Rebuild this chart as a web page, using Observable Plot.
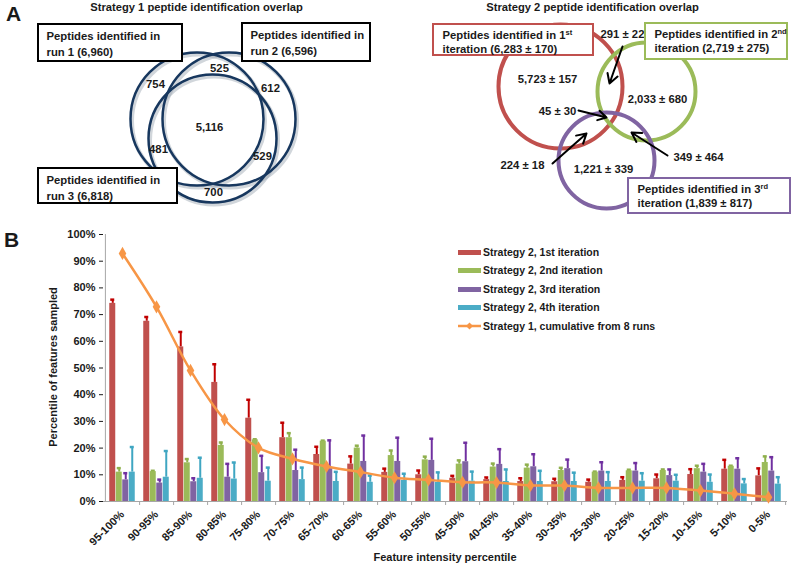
<!DOCTYPE html>
<html>
<head>
<meta charset="utf-8">
<script src="https://cdn.jsdelivr.net/npm/d3@7"></script>
<script src="https://cdn.jsdelivr.net/npm/@observablehq/plot@0.6"></script>
<style>
  body { margin: 0; background: #fff; }
  #wrap { position: relative; width: 800px; height: 568px; font-family: "Liberation Sans", Arial, sans-serif; font-weight: bold; color: #1a1a1a; overflow: hidden; }
  #wrap svg { position: absolute; left: 0; }
  .lbl { position: absolute; white-space: nowrap; }
  .leg { position: absolute; left: 458px; font-size: 10.5px; height: 14px; line-height: 14px; white-space: nowrap; }
  .leg .sw { display: inline-block; width: 23px; height: 5px; vertical-align: middle; margin-right: 2px; position: relative; top: -1px; }
</style>
</head>
<body>
<div id="wrap"></div>
<script>
// ---------- Panel B data ----------
const categories = ["95-100%","90-95%","85-90%","80-85%","75-80%","70-75%","65-70%","60-65%","55-60%","50-55%","45-50%","40-45%","35-40%","30-35%","25-30%","20-25%","15-20%","10-15%","5-10%","0-5%"];
const iter1    = [74.2,67.5,57.9,44.6,31.2,23.9,17.6,14.0,10.9,10.0,8.7,8.2,7.5,7.4,7.2,7.9,8.5,10.1,12.1,9.6];
const iter1Err = [75.6,69.1,63.5,51.4,38.1,29.5,20.5,16.9,12.3,11.6,9.6,9.0,8.7,8.5,8.2,9.1,10.1,12.1,15.6,12.4];
const iter2    = [11.0,11.2,14.5,21.0,23.1,23.9,22.6,20.0,17.2,15.6,14.0,12.9,12.5,11.6,11.0,11.5,11.6,12.3,13.2,14.6];
const iter2Err = [12.5,11.5,15.9,22.1,23.3,25.6,22.8,20.9,19.1,16.8,15.4,14.2,13.8,12.6,11.2,11.9,12.0,13.4,13.4,16.9];
const iter3    = [8.1,6.9,7.4,9.1,10.8,11.6,12.3,15.0,15.0,15.4,14.9,13.9,13.0,12.3,11.4,11.4,9.7,11.0,12.1,11.4];
const iter3Err = [10.6,8.2,8.7,14.1,17.1,19.4,22.9,24.7,23.9,23.5,22.0,19.6,17.7,15.7,14.7,14.4,12.0,14.1,16.2,16.6];
const iter4    = [11.0,9.1,8.7,8.4,7.6,8.2,7.5,7.2,7.9,7.2,7.6,7.5,7.5,7.5,7.5,7.6,7.6,7.2,6.6,6.5];
const iter4Err = [20.4,18.9,16.4,14.6,12.7,12.7,11.1,9.7,10.4,10.9,11.2,12.0,11.5,10.8,11.0,10.6,10.0,10.1,8.4,9.1];
const strategy1 = [92.9,72.9,49.1,30.7,20.1,16.0,13.1,11.0,8.9,8.1,7.2,7.1,6.0,6.0,5.1,5.1,5.1,4.1,2.9,1.6];
const yTicks = [0,10,20,30,40,50,60,70,80,90,100];

const seriesNames = ["Strategy 2, 1st iteration","Strategy 2, 2nd iteration","Strategy 2, 3rd iteration","Strategy 2, 4th iteration"];
const lineName = "Strategy 1, cumulative from 8 runs";
const barColors = ["#c0504d","#9bbb59","#8064a2","#4bacc6"];
const errColors = ["#c00000","#8fb04c","#7030a0","#3fa6c2"];
const lineColor = "#f79646";

// ---------- Panel A data (diagram layout, pixel units) ----------
const titlesA = [
  {x: 196, y: 7, text: "Strategy 1 peptide identification overlap"},
  {x: 592, y: 7, text: "Strategy 2 peptide identification overlap"}
];
const venn1Circles = [{x: 196.5, y: 118.5, r: 66.5}, {x: 228.5, y: 118.5, r: 66.5}, {x: 212, y: 138, r: 64}];
const venn1Counts = [
  {x: 155, y: 84, text: "754"}, {x: 219, y: 68, text: "525"}, {x: 270, y: 88, text: "612"},
  {x: 209, y: 127, text: "5,116"}, {x: 158, y: 149, text: "481"}, {x: 262, y: 156, text: "529"},
  {x: 213, y: 192, text: "700"}
];
const venn1Boxes = [
  {x1: 38, y1: 24, x2: 182, y2: 61, l1: "Peptides identified in", l2: "run 1 (6,960)"},
  {x1: 242, y1: 23, x2: 370, y2: 61, l1: "Peptides identified in", l2: "run 2 (6,596)"},
  {x1: 38, y1: 168, x2: 177, y2: 203, l1: "Peptides identified in", l2: "run 3 (6,818)"}
];
const venn2Circles = [
  {x: 560, y: 86, r: 62, c: "#c0504d"},
  {x: 646, y: 91, r: 49, c: "#9bbb59"},
  {x: 606, y: 160, r: 48, c: "#8064a2"}
];
const venn2Counts = [
  {x: 622, y: 34, text: "291 ± 22"}, {x: 547, y: 79, text: "5,723 ± 157"},
  {x: 657, y: 99, text: "2,033 ± 680"}, {x: 557, y: 111, text: "45 ± 30"},
  {x: 698, y: 157, text: "349 ± 464"}, {x: 522, y: 165, text: "224 ± 18"},
  {x: 603, y: 169, text: "1,221 ± 339"}
];
const venn2Arrows = [
  {x1: 622, y1: 46, x2: 609, y2: 83},
  {x1: 578, y1: 110, x2: 606, y2: 117},
  {x1: 552, y1: 163, x2: 586, y2: 133},
  {x1: 667, y1: 155, x2: 631, y2: 132}
];
const venn2Boxes = [
  {x1: 433, y1: 24, x2: 593, y2: 55, c: "#c0504d", l1: "Peptides identified in 1^st", l2: "iteration (6,283 ± 170)"},
  {x1: 645, y1: 23, x2: 787, y2: 59, c: "#9bbb59", l1: "Peptides identified in 2^nd", l2: "iteration (2,719 ± 275)"},
  {x1: 628, y1: 178, x2: 790, y2: 213, c: "#8064a2", l1: "Peptides identified in 3^rd", l2: "iteration (1,839 ± 817)"}
];

const FONT = '"Liberation Sans", Arial, sans-serif';
const wrap = document.getElementById("wrap");

// ---------- Panel A ----------
const boxLines = [];
for (const b of venn1Boxes) {
  boxLines.push({x: b.x1 + 8, y: b.y1 + 12, text: b.l1});
  boxLines.push({x: b.x1 + 8, y: b.y1 + 28, text: b.l2});
}
for (const b of venn2Boxes) {
  boxLines.push({x: b.x1 + 9, y: b.y1 + 11, text: b.l1});
  boxLines.push({x: b.x1 + 9, y: b.y1 + 25, text: b.l2});
}

const plotA = Plot.plot({
  width: 800, height: 230, margin: 0,
  x: {domain: [0, 800], range: [0, 800], axis: null},
  y: {domain: [0, 230], range: [0, 230], axis: null},
  r: {type: "identity"},
  style: {fontFamily: FONT, fontWeight: "bold", fontSize: "11.3px", background: "transparent", overflow: "visible"},
  marks: [
    Plot.dot(venn1Circles, {x: "x", y: "y", r: "r", fill: "none", stroke: "#9aa3b0", strokeOpacity: 0.45, strokeWidth: 4, dx: 1.5, dy: 2}),
    Plot.dot(venn1Circles, {x: "x", y: "y", r: "r", fill: "none", stroke: "#17375e", strokeWidth: 2.5}),
    Plot.dot(venn2Circles, {x: "x", y: "y", r: "r", fill: "none", stroke: d => d.c, strokeWidth: 4}),
    Plot.text(venn1Counts, {x: "x", y: "y", text: "text", fill: "#1a1a1a"}),
    Plot.text(venn2Counts, {x: "x", y: "y", text: "text", fill: "#1a1a1a"}),
    Plot.arrow(venn2Arrows, {x1: "x1", y1: "y1", x2: "x2", y2: "y2", stroke: "black", strokeWidth: 2, headLength: 8}),
    Plot.rect(venn1Boxes, {x1: "x1", y1: "y1", x2: "x2", y2: "y2", fill: "white", stroke: "black", strokeWidth: 2}),
    Plot.rect(venn2Boxes, {x1: "x1", y1: "y1", x2: "x2", y2: "y2", fill: "white", stroke: d => d.c, strokeWidth: 2}),
    Plot.text(boxLines, {x: "x", y: "y", text: "text", textAnchor: "start", fill: "#1a1a1a"}),
    Plot.text(titlesA, {x: "x", y: "y", text: "text", fontSize: 11.2, fill: "#1a1a1a"})
  ]
});
plotA.style.top = "0px";
wrap.appendChild(plotA);

// superscripts
plotA.querySelectorAll("text").forEach(t => {
  const s = t.textContent;
  if (s.includes("^")) {
    const [a, b] = s.split("^");
    t.textContent = "";
    const t1 = document.createElementNS("http://www.w3.org/2000/svg", "tspan");
    t1.textContent = a;
    const t2 = document.createElementNS("http://www.w3.org/2000/svg", "tspan");
    t2.textContent = b;
    t2.setAttribute("baseline-shift", "super");
    t2.setAttribute("font-size", "7.5px");
    t.appendChild(t1); t.appendChild(t2);
  }
});

// ---------- Panel B ----------
const rows = categories.map((c, i) => ({
  cat: c,
  v: [iter1[i], iter2[i], iter3[i], iter4[i]],
  e: [iter1Err[i], iter2Err[i], iter3Err[i], iter4Err[i]],
  s1: strategy1[i]
}));
const offsets = [-9.75, -3.25, 3.25, 9.75];
const barMarks = [];
for (let k = 0; k < 4; k++) {
  barMarks.push(Plot.ruleX(rows, {x: "cat", y1: d => d.v[k], y2: d => d.e[k], dx: offsets[k], stroke: errColors[k], strokeWidth: 2}));
  barMarks.push(Plot.tickY(rows, {x: "cat", y: d => d.e[k], dx: offsets[k], stroke: errColors[k], strokeWidth: 2.5, insetLeft: 1, insetRight: 1}));
  barMarks.push(Plot.barY(rows, {x: "cat", y: d => d.v[k], dx: offsets[k], fill: barColors[k]}));
}

const plotB = Plot.plot({
  width: 800, height: 338,
  marginTop: 4, marginBottom: 67, marginLeft: 103, marginRight: 13,
  x: {domain: categories, paddingInner: 0.81, paddingOuter: 0.405, tickRotate: -45, tickSize: 0, tickPadding: 11, label: null},
  y: {domain: [0, 100], ticks: yTicks, tickFormat: d => d + "%", tickSize: 4, tickPadding: 4, label: null},
  style: {fontFamily: FONT, fontWeight: "bold", fontSize: "11px", color: "#1a1a1a", background: "transparent", overflow: "visible"},
  marks: [
    ...barMarks,
    Plot.ruleY([0], {stroke: "#a6a6a6", strokeWidth: 1}),
    Plot.ruleX([categories[0]], {dx: -17.1, stroke: "#a6a6a6", strokeWidth: 1}),
    Plot.ruleX(categories, {x: d => d, dx: 17.1, y1: 0, y2: -1.5, stroke: "#a6a6a6"}),
    Plot.line(rows, {x: "cat", y: "s1", stroke: lineColor, strokeWidth: 2.5, curve: "catmull-rom"}),
    Plot.dot(rows, {x: "cat", y: "s1", symbol: "diamond", r: 4, fill: lineColor})
  ]
});
plotB.style.top = "230px";
wrap.appendChild(plotB);

// ---------- HTML labels ----------
function addLabel(text, css) {
  const d = document.createElement("div");
  d.className = "lbl";
  d.textContent = text;
  Object.assign(d.style, css);
  wrap.appendChild(d);
  return d;
}
addLabel("A", {left: "6px", top: "2px", fontSize: "21px"});
addLabel("B", {left: "4px", top: "228px", fontSize: "21px"});
addLabel("Feature intensity percentile", {left: "445px", top: "551px", fontSize: "11px", transform: "translateX(-50%)"});
addLabel("Percentile of features sampled", {left: "53px", top: "367px", fontSize: "11px", transform: "translate(-50%,-50%) rotate(-90deg)"});

// legend
const legY = [252, 270, 289, 307, 326];
seriesNames.forEach((name, k) => {
  const d = document.createElement("div");
  d.className = "leg";
  d.style.top = (legY[k] - 7) + "px";
  const sw = document.createElement("span");
  sw.className = "sw";
  sw.style.background = barColors[k];
  d.appendChild(sw);
  d.appendChild(document.createTextNode(name));
  wrap.appendChild(d);
});
{
  const d = document.createElement("div");
  d.className = "leg";
  d.style.top = (legY[4] - 7) + "px";
  const sw = document.createElement("span");
  sw.style.cssText = "display:inline-block;width:23px;height:14px;vertical-align:middle;margin-right:2px;position:relative;top:-1px;";
  sw.innerHTML = '<svg width="23" height="14" style="position:static"><line x1="0" y1="7" x2="23" y2="7" stroke="' + lineColor + '" stroke-width="2.5"/><path d="M11.5 3.5 L15 7 L11.5 10.5 L8 7 Z" fill="' + lineColor + '"/></svg>';
  d.appendChild(sw);
  d.appendChild(document.createTextNode(lineName));
  wrap.appendChild(d);
}
</script>
</body>
</html>
